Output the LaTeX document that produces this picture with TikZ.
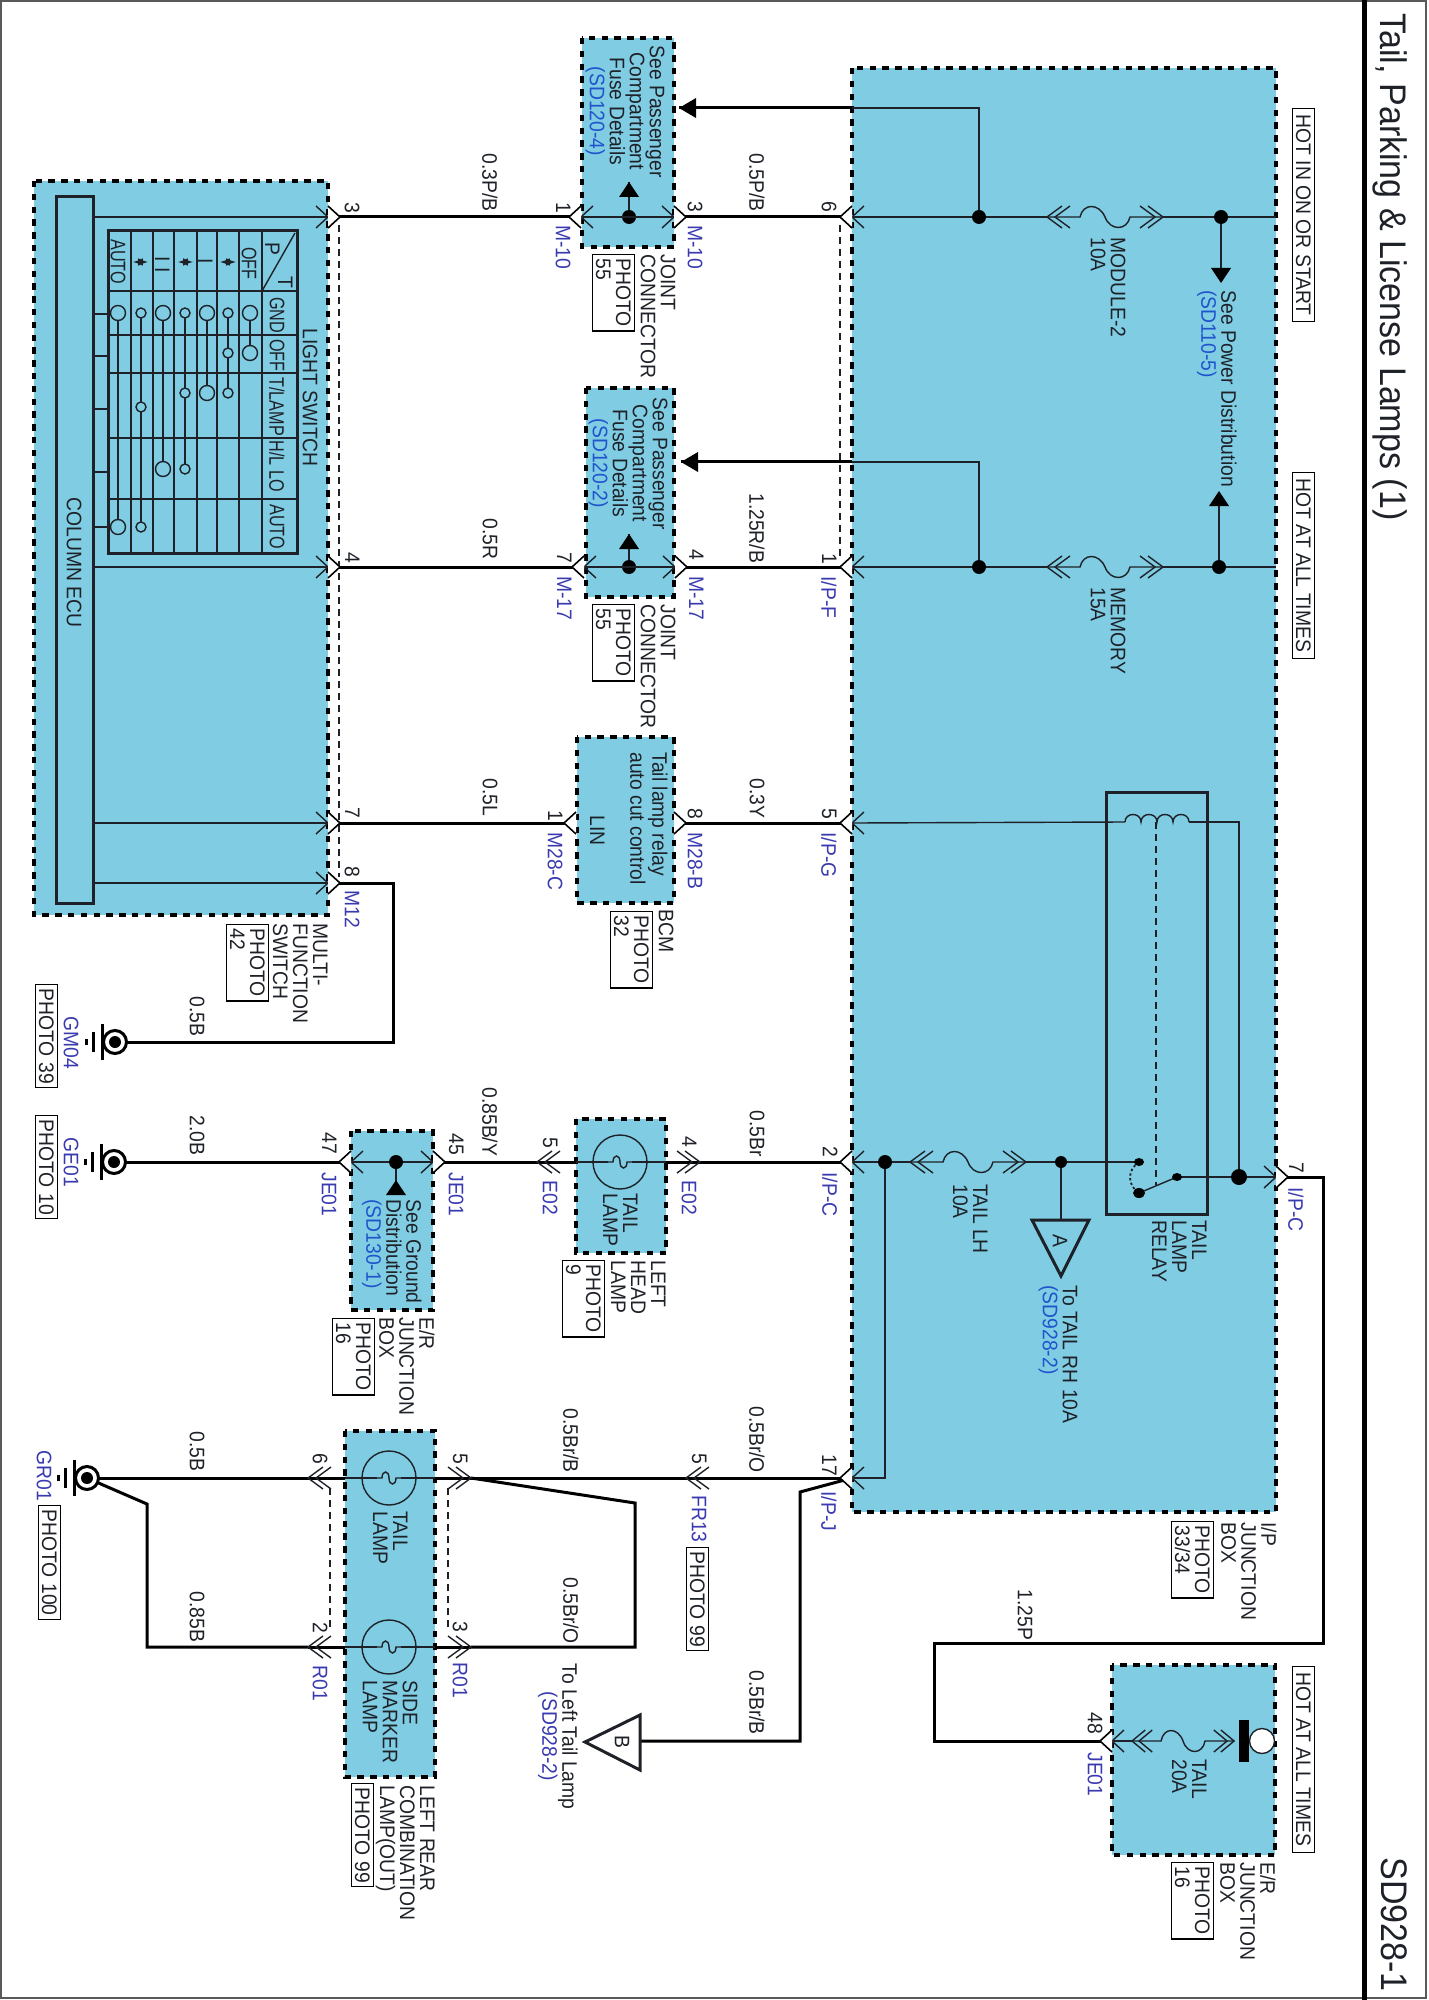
\documentclass[tikz,border=0pt]{standalone}
\usepackage{fontspec}
\setmainfont[FakeStretch=0.92]{Liberation Sans}
\newfontfamily\tightfont[FakeStretch=0.77]{Liberation Sans}
\definecolor{boxblue}{RGB}{127,204,227}
\definecolor{codeblue}{RGB}{58,58,176}
\definecolor{refblue}{RGB}{32,84,204}
\definecolor{inkdark}{RGB}{30,34,40}
\tikzset{
  txt/.style={anchor=north west,inner sep=0pt,rotate=-90,text=inkdark,align=left,
    font=\fontsize{10.5pt}{10pt}\selectfont},
  txtc/.style={txt,align=center},
  tighttxt/.style={txt,font=\tightfont\fontsize{10.5pt}{10pt}\selectfont},
  code/.style={txt,text=codeblue},
  bigtxt/.style={txt,font=\fontsize{18.5pt}{20pt}\selectfont},
  photobox/.style={txt,draw=black,fill=white,line width=0.6pt,inner xsep=2pt,inner ysep=1.8pt},
  hotbox/.style={photobox,inner xsep=3pt},
  jbox/.style={fill=boxblue,draw=black,line width=1.6pt,dash pattern=on 3.2pt off 3.2pt},
  wire/.style={draw=black,line width=1.5pt},
  thinw/.style={draw=inkdark,line width=0.7pt},
  dashw/.style={draw=inkdark,line width=0.6pt,dash pattern=on 3.5pt off 2.5pt},
  heavy/.style={draw=inkdark,line width=1.5pt},
  dot/.style={circle,fill=black,inner sep=0pt,minimum size=7pt},
  pinR/.pic={
    \draw[thinw] (-12,-11) -- (0,0) -- (-12,11);
    \draw[draw=black,line width=0.8pt,fill=white] (0,-11) -- (12,0) -- (0,11);
  },
  pinL/.pic={
    \draw[thinw] (12,-11) -- (0,0) -- (12,11);
    \draw[draw=black,line width=0.8pt,fill=white] (0,-11) -- (-12,0) -- (0,11);
  },
  outR/.pic={\draw[draw=black,line width=0.8pt,fill=white] (0,-11) -- (12,0) -- (0,11);},
  outL/.pic={\draw[draw=black,line width=0.8pt,fill=white] (0,-11) -- (-12,0) -- (0,11);},
  dblR/.pic={
    \draw[thinw] (-15,-11) -- (0,0) -- (-15,11);
    \draw[thinw] (-23,-11) -- (-8,0) -- (-23,11);
  },
  dblL/.pic={
    \draw[thinw] (15,-11) -- (0,0) -- (15,11);
    \draw[thinw] (23,-11) -- (8,0) -- (23,11);
  },
  fuse/.pic={
    \draw[thinw] (15,-11) -- (0,0) -- (15,11);
    \draw[thinw] (23,-11) -- (8,0) -- (23,11);
    \draw[thinw] (0,0) -- (33,0) .. controls (36,14) and (52,14) .. (58,0)
      .. controls (63,-14) and (80,-14) .. (83,0) -- (116,0);
    \draw[thinw] (101,-11) -- (116,0) -- (101,11);
    \draw[thinw] (93,-11) -- (108,0) -- (93,11);
  },
  lamp/.pic={
    \draw[thinw] (0,0) circle [radius=27];
    \draw[thinw] (-12,0) -- (-7,0) .. controls (-7,8) and (0,8) .. (0,0)
      .. controls (0,-8) and (7,-8) .. (7,0) -- (12,0);
  },
  gnd/.pic={
    \draw[draw=black,line width=1.5pt,fill=white] (0,0) circle [radius=11.5];
    \fill[black] (0,0) circle [radius=6];
    \draw[draw=black,line width=1.5pt] (-13,-18) -- (-13,18);
    \draw[draw=black,line width=1.5pt] (-22,-10) -- (-22,10);
    \draw[draw=black,line width=1.5pt] (-29,-3) -- (-29,3);
  },
  triUp/.pic={\fill[black] (0,0) -- (10,-15) -- (-10,-15) -- cycle;},
  triDown/.pic={\fill[black] (0,0) -- (10,15) -- (-10,15) -- cycle;},
  triLeft/.pic={\fill[black] (0,0) -- (17,-10) -- (17,10) -- cycle;},
}
\begin{document}
\begin{tikzpicture}[x=0.5pt,y=0.5pt,yscale=-1]
\useasboundingbox (0,0) rectangle (1428,2000);

% Frame
\draw[draw=gray!70!black,line width=0.8pt] (1,1) rectangle (1426,1998);
\draw[draw=black,line width=2.5pt] (1364,0) -- (1364,2000);

% Modules
\draw[jbox] (34,181) rectangle (328,915);
\draw[jbox] (582,38) rectangle (674,247);
\draw[jbox] (586,388) rectangle (674,597);
\draw[jbox] (577,737) rectangle (674,903);
\draw[jbox] (576,1119) rectangle (666,1253);
\draw[jbox] (351,1131) rectangle (433,1310);
\draw[jbox] (345,1431) rectangle (435,1777);
\draw[jbox] (852,68) rectangle (1276,1512);
\draw[jbox] (1112,1665) rectangle (1275,1855);

% Pins
\coordinate (mfsA) at (328,217);
\coordinate (mfsB) at (328,567);
\coordinate (mfsC) at (328,823);
\coordinate (mfsD) at (328,883);
\coordinate (ecuA) at (93,217);
\coordinate (ecuB) at (93,567);
\coordinate (ecuC) at (93,823);
\coordinate (ecuD) at (93,883);
\coordinate (jcA) at (581,217);
\coordinate (jcB) at (674,217);
\coordinate (jcC) at (584,567);
\coordinate (jcD) at (675,567);
\coordinate (bcmA) at (576,823);
\coordinate (bcmB) at (674,823);
\coordinate (ipA) at (852,217);
\coordinate (ipB) at (852,567);
\coordinate (ipC) at (852,823);
\coordinate (ipD) at (852,1162);
\coordinate (ipE) at (852,1478);
\coordinate (ipF) at (1276,1177);
\coordinate (hlA) at (537,1162);
\coordinate (hlB) at (700,1162);
\coordinate (erA) at (351,1162);
\coordinate (erB) at (433,1162);
\coordinate (rcA) at (308,1478);
\coordinate (rcB) at (471,1478);
\coordinate (rcC) at (308,1647);
\coordinate (rcD) at (471,1647);
\coordinate (frA) at (686,1478);
\coordinate (erC) at (1112,1741);

% Ground points and lamps
\coordinate (gmA) at (115,1042);
\coordinate (geA) at (114,1162);
\coordinate (grA) at (87,1478);
\coordinate (lpA) at (620,1162);
\coordinate (lpB) at (389,1478);
\coordinate (lpC) at (389,1647);

%Straight Lines
\draw[thinw] (ecuA) -- (mfsA);
\draw[thinw] (ecuB) -- (mfsB);
\draw[thinw] (ecuC) -- (mfsC);
\draw[thinw] (ecuD) -- (mfsD);
\draw[wire] (mfsA) -- (jcA);
\draw[wire] (mfsB) -- (jcC);
\draw[wire] (mfsC) -- (bcmA);
\coordinate (bendA) at (393,883);
\draw[wire] (mfsD) -- (bendA) |- (gmA);
\draw[wire] (jcB) -- (ipA);
\draw[wire] (jcD) -- (ipB);
\draw[wire] (bcmB) -- (ipC);
\draw[dashw] (339,225) -- (339,877);
\draw[dashw] (840,225) -- (840,556);

% Joint connectors
\node[dot] (jdA) at (629,217) {};
\node[dot] (jdB) at (629,567) {};
\coordinate (jtA) at (629,182);
\coordinate (jtB) at (629,534);
\draw[thinw] (jcA) -- (jcB);
\draw[thinw] (jcC) -- (jcD);
\draw[thinw] (jdA) -- (jtA);
\draw[thinw] (jdB) -- (jtB);
\pic at (jtA) {triUp};
\pic at (jtB) {triUp};

% Fuses and relay
\node[dot] (idA) at (979,217) {};
\node[dot] (idB) at (979,567) {};
\node[dot] (idC) at (1221,217) {};
\node[dot] (idD) at (1219,567) {};
\coordinate (fzA) at (1047,217);
\coordinate (fzB) at (1163,217);
\coordinate (fzC) at (1047,567);
\coordinate (fzD) at (1163,567);
\coordinate (edA) at (1276,217);
\coordinate (edB) at (1276,567);
\draw[thinw] (ipA) -- (idA) -- (fzA);
\draw[thinw] (fzB) -- (idC) -- (edA);
\draw[thinw] (ipB) -- (idB) -- (fzC);
\draw[thinw] (fzD) -- (idD) -- (edB);
\pic at (fzA) {fuse};
\pic at (fzC) {fuse};
\coordinate (ptA) at (1221,283);
\coordinate (ptB) at (1219,491);
\draw[thinw] (idC) -- (1221,270);
\draw[thinw] (idD) -- (1219,505);
\pic at (ptA) {triDown};
\pic at (ptB) {triUp};
\coordinate (tipA) at (679,108);
\coordinate (tipB) at (681,462);
\coordinate (edC) at (852,108);
\coordinate (edD) at (852,462);
\draw[wire] (tipA) -- (edC);
\draw[wire] (tipB) -- (edD);
\draw[thinw] (edC) -| (idA);
\draw[thinw] (edD) -| (idB);
\pic at (tipA) {triLeft};
\pic at (tipB) {triLeft};

% Tail relay
\draw[heavy] (1106,792) rectangle (1207,1214);
\node[dot,minimum size=6pt] (idE) at (1061,1162) {};
\node[dot] (idF) at (885,1162) {};
\node[dot,minimum size=8pt] (idG) at (1239,1177) {};
\coordinate (fzE) at (910,1162);
\coordinate (fzF) at (1026,1162);
\coordinate (rlA) at (1139,1162);
\coordinate (rlB) at (1139,1193);
\coordinate (rlC) at (1177,1177);
\coordinate (rlD) at (1125,822);
\coordinate (rlE) at (1189,822);
\draw[thinw] (ipD) -- (idF) -- (fzE);
\draw[thinw] (fzF) -- (idE) -- (rlA);
\pic at (fzE) {fuse};
\draw[thinw] (ipC) -- (rlD);
\draw[thinw] (rlD) .. controls (1125,812) and (1141,812) .. (1141,822)
  .. controls (1141,812) and (1157,812) .. (1157,822)
  .. controls (1157,812) and (1173,812) .. (1173,822)
  .. controls (1173,812) and (1189,812) .. (rlE);
\draw[thinw] (rlE) -| (idG);
\draw[thinw] (rlC) -- (idG) -- (ipF);
\draw[dashw] (1156,822) -- (1156,1185);
\draw[thinw] (rlB) -- (rlC);
\draw[draw=inkdark,line width=0.9pt,dash pattern=on 1.2pt off 1.2pt] (rlA) .. controls (1127,1170) and (1127,1185) .. (rlB);
\fill[black] (rlA) ellipse [x radius=5,y radius=4];
\fill[black] (rlB) ellipse [x radius=6,y radius=5];
\fill[black] (rlC) ellipse [x radius=5,y radius=4];
\coordinate (triA) at (1061,1220);
\draw[thinw] (idE) -- (triA);
\draw[heavy] (1032,1220) -- (1089,1220) -- (1061,1276) -- cycle;

% Head lamp row
\draw[wire] (ipD) -- (hlB);
\draw[thinw] (lpA) ++(-12,0) -- (576,1162);
\draw[thinw] (lpA) ++(12,0) -- (666,1162);
\draw[wire] (666,1162) -- (hlB);
\draw[wire] (hlA) -- (576,1162);
\draw[wire] (hlA) -- (erB);
\draw[thinw] (erA) -- (erB);
\draw[wire] (erA) -- (geA);
\node[dot] (edE) at (396,1162) {};
\draw[thinw] (edE) -- (396,1182);
\pic at (396,1180) {triUp};
\pic at (lpA) {lamp};
\pic at (hlB) {dblR};
\pic at (hlA) {dblL};

% Bus to 17
\coordinate (bendB) at (885,1478);
\draw[thinw] (idF) -- (bendB) -- (ipE);
\draw[wire] (ipE) -- (frA) -- (rcB);
\coordinate (bendC) at (635,1503);
\draw[wire] (rcB) -- (bendC) |- (rcD);
\coordinate (bendD) at (147,1504);
\draw[wire] (grA) -- (rcA);
\draw[wire] (grA) -- (bendD) |- (rcC);
\draw[wire] (rcA) -- (345,1478);
\draw[wire] (rcC) -- (345,1647);
\draw[wire] (435,1478) -- (rcB);
\draw[wire] (435,1647) -- (rcD);
\draw[thinw] (lpB) ++(-12,0) -- (345,1478);
\draw[thinw] (lpB) ++(12,0) -- (435,1478);
\draw[thinw] (lpC) ++(-12,0) -- (345,1647);
\draw[thinw] (lpC) ++(12,0) -- (435,1647);
\draw[dashw] (330,1488) -- (330,1630);
\draw[dashw] (448,1488) -- (448,1630);
\pic at (lpB) {lamp};
\pic at (lpC) {lamp};
\pic at (rcA) {dblL};
\pic at (rcC) {dblL};
\pic at (rcB) {dblR};
\pic at (rcD) {dblR};
\pic at (frA) {dblL};
\coordinate (bendE) at (800,1492);
\coordinate (triB) at (640,1741);
\draw[wire] (ipE) -- (bendE) |- (triB);
\draw[heavy] (640,1715) -- (640,1770) -- (585,1742) -- cycle;

% Tail fuse and 1.25P
\coordinate (bendF) at (1323,1177);
\coordinate (bendG) at (934,1643);
\draw[wire] (ipF) -- (bendF) |- (bendG) |- (erC);
\coordinate (fzG) at (1132,1741);
\coordinate (fzH) at (1234,1741);
\draw[thinw] (erC) -- (fzG);
\pic[xscale=0.88] at (fzG) {fuse};
\fill[black] (1239,1720) rectangle (1249,1762);
\draw[draw=inkdark,line width=0.7pt,fill=white] (1262,1741) circle [radius=12.5];

% Ground points
\pic at (gmA) {gnd};
\pic at (geA) {gnd};
\pic at (grA) {gnd};

% Connector marks
\pic at (mfsA) {pinR};
\pic at (mfsB) {pinR};
\pic at (mfsC) {pinR};
\pic at (mfsD) {pinR};
\pic at (jcA) {pinL};
\pic at (jcB) {pinR};
\pic at (jcC) {pinL};
\pic at (jcD) {pinR};
\pic at (bcmA) {outL};
\pic at (bcmB) {outR};
\pic at (ipA) {pinL};
\pic at (ipB) {pinL};
\pic at (ipC) {pinL};
\pic at (ipD) {pinL};
\pic at (ipE) {pinL};
\pic at (ipF) {pinR};
\pic at (erA) {pinL};
\pic at (erB) {pinR};
\pic at (erC) {pinL};

% Column ECU
\draw[heavy] (56,197) rectangle (93,903);
\draw[heavy] (108,231) rectangle (297,553);
\draw[thinw] (131,231) -- (131,553);
\draw[thinw] (153,231) -- (153,553);
\draw[thinw] (174,231) -- (174,553);
\draw[thinw] (197,231) -- (197,553);
\draw[thinw] (217,231) -- (217,553);
\draw[thinw] (239,231) -- (239,553);
\draw[thinw] (262,231) -- (262,553);
\draw[thinw] (108,291) -- (297,291);
\draw[thinw] (108,335) -- (297,335);
\draw[thinw] (108,373) -- (297,373);
\draw[thinw] (108,438) -- (297,438);
\draw[thinw] (108,499) -- (297,499);
\draw[thinw] (262,291) -- (295,233);
\draw[thinw] (93,314) -- (108,314);
\draw[thinw] (93,356) -- (108,356);
\draw[thinw] (93,409) -- (108,409);
\draw[thinw] (93,472) -- (108,472);
\draw[thinw] (93,527) -- (108,527);
\draw[thinw] (118,313) -- (118,527);
\draw[thinw] (141,313) -- (141,527);
\draw[thinw] (163,313) -- (163,469);
\draw[thinw] (185,313) -- (185,469);
\draw[thinw] (207,313) -- (207,393);
\draw[thinw] (228,313) -- (228,393);
\draw[thinw] (250,313) -- (250,353);
\draw[thinw,fill=boxblue] (118,313) circle [radius=7.5];
\draw[thinw,fill=boxblue] (118,527) circle [radius=7.5];
\draw[thinw,fill=boxblue] (141,313) circle [radius=5];
\draw[thinw,fill=boxblue] (141,407) circle [radius=5];
\draw[thinw,fill=boxblue] (141,527) circle [radius=5];
\draw[thinw,fill=boxblue] (163,313) circle [radius=7.5];
\draw[thinw,fill=boxblue] (163,469) circle [radius=7.5];
\draw[thinw,fill=boxblue] (185,313) circle [radius=5];
\draw[thinw,fill=boxblue] (185,393) circle [radius=5];
\draw[thinw,fill=boxblue] (185,469) circle [radius=5];
\draw[thinw,fill=boxblue] (207,313) circle [radius=7.5];
\draw[thinw,fill=boxblue] (207,393) circle [radius=7.5];
\draw[thinw,fill=boxblue] (228,313) circle [radius=5];
\draw[thinw,fill=boxblue] (228,353) circle [radius=5];
\draw[thinw,fill=boxblue] (228,393) circle [radius=5];
\draw[thinw,fill=boxblue] (250,313) circle [radius=7.5];
\draw[thinw,fill=boxblue] (250,353) circle [radius=7.5];
\draw[thinw,latex-latex] (133,262) -- (148,262);
\draw[thinw,latex-latex] (178,262) -- (193,262);
\draw[thinw,latex-latex] (220,262) -- (236,262);

% Text Node
\node[bigtxt] (title) at (1408,13) {Tail, Parking \& License Lamps (1)};
\node[bigtxt] (docno) at (1408,1857) {SD928-1};
\node[hotbox] (hotA) at (1315,108) {HOT IN ON OR START};
\node[hotbox] (hotB) at (1315,472) {HOT AT ALL TIMES};
\node[hotbox] (hotC) at (1315,1666) {HOT AT ALL TIMES};
\node[txt] (fuA) at (1126,237) {MODULE-2\\10A};
\node[txt] (fuB) at (1126,587) {MEMORY\\15A};
\node[txt] (fuC) at (988,1184) {TAIL LH\\10A};
\node[txt] (fuD) at (1207,1759) {TAIL\\20A};
\node[txt] (pwr) at (1237,290) {See Power Distribution\\\textcolor{refblue}{(SD110-5)}};
\node[txt] (relay) at (1207,1220) {TAIL\\LAMP\\RELAY};
\node[txt] (toRh) at (1078,1285) {To TAIL RH 10A\\\textcolor{refblue}{(SD928-2)}};
\node[txt,anchor=center] (letA) at (1060,1241) {A};
\node[txt,anchor=center] (letB) at (622,1742) {B};
\node[txtc] (toLt) at (578,1663) {To Left Tail Lamp\\\textcolor{codeblue}{(SD928-2)}};
\node[txt] (ipName) at (1277,1522) {I/P\\JUNCTION\\BOX};
\node[photobox] (ipPh) at (1214,1521) {PHOTO\\33/34};
\node[txt] (erName) at (1276,1862) {E/R\\JUNCTION\\BOX};
\node[photobox] (erPh) at (1214,1862) {PHOTO\\16};
\node[txt] (wPA) at (1033,1589) {1.25P};

\node[txt] (lsw) at (318,328) {LIGHT SWITCH};
\node[txt] (ecu) at (82,497) {COLUMN ECU};
\node[txt] (hP) at (280,242) {P};
\node[txt] (hT) at (293,276) {T};
\node[tighttxt] (cAuto) at (126,239) {AUTO};
\node[txt] (cII) at (170,256) {I I};
\node[txt] (cI) at (213,258) {I};
\node[tighttxt] (cOff) at (257,247) {OFF};
\node[tighttxt] (rGnd) at (285,297) {GND};
\node[tighttxt] (rOff) at (285,339) {OFF};
\node[tighttxt] (rLamp) at (285,377) {T/LAMP};
\node[tighttxt] (rHl) at (285,440) {H/L LO};
\node[tighttxt] (rAuto) at (285,504) {AUTO};
\node[txt] (mfName) at (328,923) {MULTI-\\FUNCTION\\SWITCH};
\node[photobox] (mfPh) at (269,924) {PHOTO\\42};
\node[txt] (nA) at (360,202) {3};
\node[txt] (nB) at (360,552) {4};
\node[txt] (nC) at (360,807) {7};
\node[txt] (nD) at (360,866) {8};
\node[code] (cM12) at (360,890) {M12};
\node[txt] (wB) at (205,996) {0.5B};
\node[code] (cGm) at (79,1016) {GM04};
\node[photobox] (gmPh) at (58,984) {PHOTO 39};

\node[txt] (wC) at (498,153) {0.3P/B};
\node[txt] (wD) at (765,153) {0.5P/B};
\node[txt] (nE) at (571,202) {1};
\node[code] (cMa) at (571,225) {M-10};
\node[txt] (nF) at (703,201) {3};
\node[code] (cMb) at (703,225) {M-10};
\node[txt] (nG) at (837,201) {6};
\node[txtc] (seeA) at (665,45) {See Passenger\\Compartment\\Fuse Details\\\textcolor{refblue}{(SD120-4)}};
\node[txt] (jnA) at (676,254) {JOINT\\CONNECTOR};
\node[photobox] (jnPhA) at (635,254) {PHOTO\\55};

\node[txt] (wE) at (498,518) {0.5R};
\node[txt] (wF) at (765,493) {1.25R/B};
\node[txt] (nH) at (572,552) {7};
\node[code] (cMc) at (572,576) {M-17};
\node[txt] (nI) at (704,549) {4};
\node[code] (cMd) at (704,576) {M-17};
\node[txt] (nJ) at (837,553) {1};
\node[code] (cIpF) at (837,576) {I/P-F};
\node[txtc] (seeB) at (668,397) {See Passenger\\Compartment\\Fuse Details\\\textcolor{refblue}{(SD120-2)}};
\node[txt] (jnB) at (676,604) {JOINT\\CONNECTOR};
\node[photobox] (jnPhB) at (635,604) {PHOTO\\55};

\node[txt] (wG) at (498,778) {0.5L};
\node[txt] (wH) at (765,778) {0.3Y};
\node[txt] (nK) at (563,810) {1};
\node[code] (cMe) at (563,832) {M28-C};
\node[txt] (nL) at (703,808) {8};
\node[code] (cMf) at (703,832) {M28-B};
\node[txt] (nM) at (837,808) {5};
\node[code] (cIpG) at (837,832) {I/P-G};
\node[txt] (cut) at (668,752) {Tail lamp relay\\[1pt]auto cut control};
\node[txt] (lin) at (605,815) {LIN};
\node[txt] (bcm) at (674,909) {BCM};
\node[photobox] (bcmPh) at (653,911) {PHOTO\\32};

\node[txt] (wI) at (205,1115) {2.0B};
\node[code] (cGe) at (79,1137) {GE01};
\node[photobox] (gePh) at (58,1115) {PHOTO 10};
\node[txt] (nN) at (337,1132) {47};
\node[code] (cJa) at (337,1172) {JE01};
\node[txt] (nO) at (464,1133) {45};
\node[code] (cJb) at (464,1172) {JE01};
\node[txt] (wJ) at (498,1087) {0.85B/Y};
\node[txt] (seeC) at (422,1199) {See Ground\\Distribution\\\textcolor{refblue}{(SD130-1)}};
\node[txt] (erNameB) at (435,1317) {E/R\\JUNCTION\\BOX};
\node[photobox] (erPhB) at (375,1318) {PHOTO\\16};
\node[txt] (nP) at (558,1137) {5};
\node[code] (cEa) at (558,1180) {E02};
\node[txt] (nQ) at (697,1136) {4};
\node[code] (cEb) at (697,1180) {E02};
\node[txt] (wK) at (765,1110) {0.5Br};
\node[txt] (nR) at (838,1146) {2};
\node[code] (cIpC) at (838,1172) {I/P-C};
\node[txt] (lpNameA) at (638,1193) {TAIL\\LAMP};
\node[txt] (lhl) at (666,1260) {LEFT\\HEAD\\LAMP};
\node[photobox] (lhlPh) at (605,1260) {PHOTO\\9};

\node[txt] (nS) at (1304,1162) {7};
\node[code] (cIpC2) at (1304,1187) {I/P-C};

\node[txt] (wL) at (205,1431) {0.5B};
\node[txt] (wM) at (205,1591) {0.85B};
\node[txt] (wN) at (579,1408) {0.5Br/B};
\node[txt] (wO) at (579,1577) {0.5Br/O};
\node[txt] (wP) at (765,1406) {0.5Br/O};
\node[txt] (wQ) at (765,1670) {0.5Br/B};
\node[code] (cGr) at (52,1450) {GR01};
\node[photobox] (grPh) at (61,1505) {PHOTO 100};
\node[txt] (nT) at (328,1453) {6};
\node[txt] (nU) at (328,1622) {2};
\node[code] (cRa) at (328,1665) {R01};
\node[txt] (nV) at (468,1453) {5};
\node[txt] (nW) at (468,1621) {3};
\node[code] (cRb) at (468,1662) {R01};
\node[txt] (lpNameB) at (408,1511) {TAIL\\LAMP};
\node[txt] (lpNameC) at (418,1680) {SIDE\\MARKER\\LAMP};
\node[txt] (lrc) at (435,1785) {LEFT REAR\\COMBINATION\\LAMP(OUT)};
\node[photobox] (lrcPh) at (374,1783) {PHOTO 99};
\node[txt] (nX) at (707,1453) {5};
\node[code] (cFr) at (707,1495) {FR13};
\node[photobox] (frPh) at (709,1547) {PHOTO 99};
\node[txt] (nY) at (837,1454) {17};
\node[code] (cIpJ) at (837,1491) {I/P-J};
\node[txt] (nZ) at (1103,1712) {48};
\node[code] (cJc) at (1103,1752) {JE01};

\end{tikzpicture}
\end{document}
